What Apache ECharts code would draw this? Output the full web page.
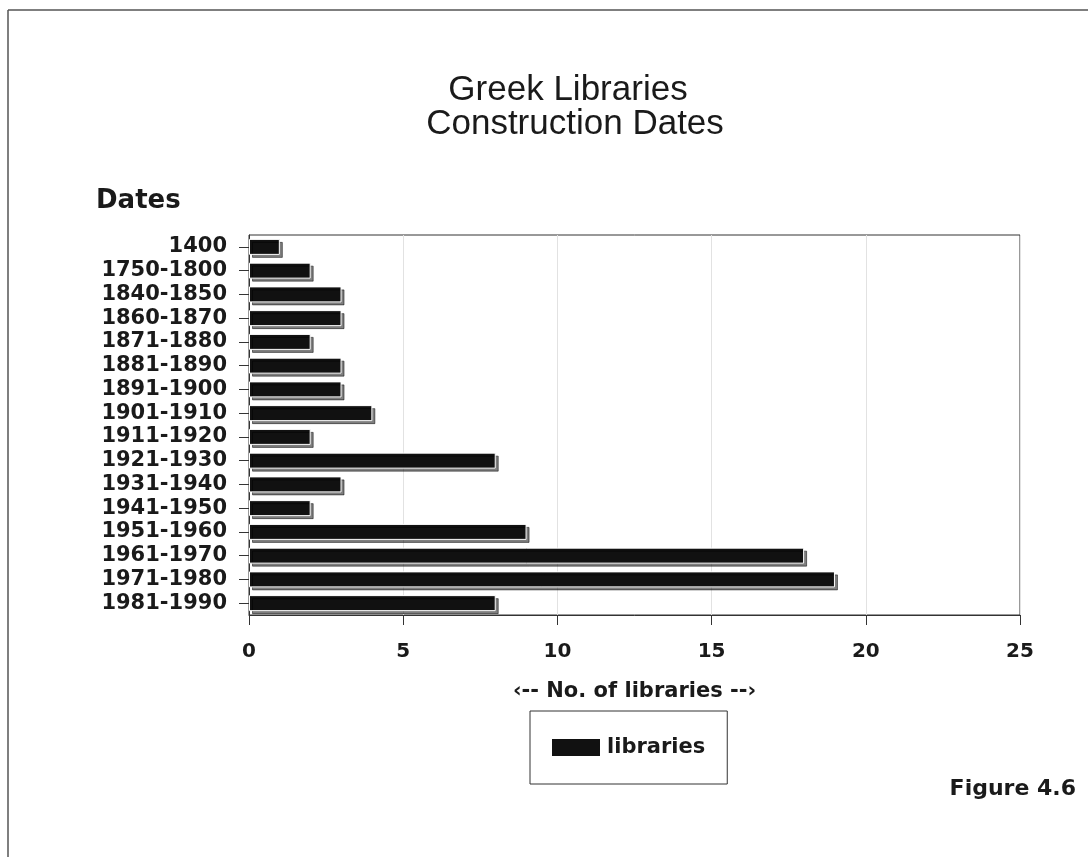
<!DOCTYPE html>
<html>
<head>
<meta charset="utf-8">
<title>Greek Libraries Construction Dates</title>
<script src="https://cdn.jsdelivr.net/npm/echarts@6/dist/echarts.min.js"></script>
<style>
  html, body { margin: 0; padding: 0; background: #fff; }
  #chart { width: 1088px; height: 857px; }
</style>
</head>
<body>
<div id="chart"></div>
<script>
// Construction periods (top to bottom) and number of libraries per period
const periods = [
  '1400', '1750-1800', '1840-1850', '1860-1870', '1871-1880', '1881-1890',
  '1891-1900', '1901-1910', '1911-1920', '1921-1930', '1931-1940',
  '1941-1950', '1951-1960', '1961-1970', '1971-1980', '1981-1990'
];
const libraries = [1, 2, 3, 3, 2, 3, 3, 4, 2, 8, 3, 2, 9, 18, 19, 8];
const xTicks = { min: 0, max: 25, step: 5 };

const FONT = 'DejaVu Sans';
const INK = '#1a1a1a';

const chart = echarts.init(document.getElementById('chart'), null, { renderer: 'canvas' });

chart.setOption({
  backgroundColor: '#ffffff',
  animation: false,
  graphic: [
    // page frame (top and left edges)
    { type: 'line', shape: { x1: 8, y1: 10, x2: 1088, y2: 10 }, style: { stroke: '#555', lineWidth: 1.5 } },
    { type: 'line', shape: { x1: 8, y1: 10, x2: 8, y2: 857 }, style: { stroke: '#555', lineWidth: 1.5 } },
    { type: 'text', x: 568, y: 90, style: { text: 'Greek Libraries', font: '35px "Liberation Sans"', fill: INK, align: 'center', verticalAlign: 'middle' } },
    { type: 'text', x: 575, y: 124, style: { text: 'Construction Dates', font: '35px "Liberation Sans"', fill: INK, align: 'center', verticalAlign: 'middle' } },
    { type: 'text', x: 96, y: 201, style: { text: 'Dates', font: 'bold 26px "DejaVu Sans"', fill: INK, align: 'left', verticalAlign: 'middle' } },
    { type: 'text', x: 1076, y: 789, style: { text: 'Figure 4.6', font: 'bold 22px "DejaVu Sans"', fill: INK, align: 'right', verticalAlign: 'middle' } }
  ],
  grid: {
    left: 249, right: 68, top: 235, bottom: 242,
    show: true, borderColor: '#333', borderWidth: 1, backgroundColor: 'transparent'
  },
  legend: {
    left: 530, top: 711,
    padding: [26, 22, 26, 22],
    borderColor: '#333', borderWidth: 1,
    itemWidth: 48, itemHeight: 17, itemGap: 10,
    icon: 'rect',
    itemStyle: { color: '#111', borderWidth: 0, shadowBlur: 0, shadowOffsetX: 0, shadowOffsetY: 0, shadowColor: 'transparent' },
    textStyle: { fontFamily: FONT, fontWeight: 'bold', fontSize: 21, color: INK, padding: [0, 0, 0, 2] },
    data: ['libraries']
  },
  xAxis: {
    type: 'value',
    min: xTicks.min, max: xTicks.max, interval: xTicks.step,
    name: '‹-- No. of libraries --›',
    nameLocation: 'middle', nameGap: 66,
    nameTextStyle: { fontFamily: FONT, fontWeight: 'bold', fontSize: 21, color: INK },
    axisLine: { show: true, lineStyle: { color: '#333', width: 1 } },
    axisTick: { show: true, length: 10, lineStyle: { color: '#333' } },
    axisLabel: { fontFamily: FONT, fontWeight: 'bold', fontSize: 20, color: INK, margin: 27 },
    splitLine: { show: true, lineStyle: { color: '#e2e2e2', width: 1 } }
  },
  yAxis: {
    type: 'category',
    inverse: true,
    data: periods,
    axisLine: { show: true, lineStyle: { color: '#333', width: 1 } },
    axisTick: { show: true, length: 10, alignWithLabel: true, interval: 0, lineStyle: { color: '#333' } },
    axisLabel: { interval: 0, fontFamily: FONT, fontWeight: 'bold', fontSize: 21, color: INK, margin: 22 },
    splitLine: { show: false }
  },
  series: [{
    name: 'libraries',
    type: 'bar',
    data: libraries,
    barWidth: 16,
    itemStyle: {
      color: '#111',
      borderColor: '#ffffff',
      borderWidth: 1,
      shadowColor: 'rgba(0,0,0,0.5)',
      shadowBlur: 0,
      shadowOffsetX: 3,
      shadowOffsetY: 3
    }
  }]
});
</script>
</body>
</html>
